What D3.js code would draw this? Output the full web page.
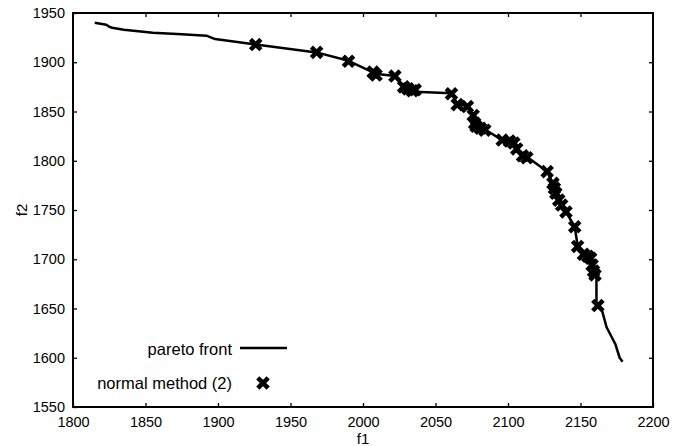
<!DOCTYPE html>
<html>
<head>
<meta charset="utf-8">
<script src="https://cdn.jsdelivr.net/npm/d3@7"></script>
<style>
  body { margin: 0; background: #fff; }
  text { font-family: "Liberation Sans", Arial, sans-serif; fill: #000; }
</style>
</head>
<body>
<div id="chart"></div>
<script>
// pareto front (line)
var frontF1 = [1815, 1823, 1825, 1827, 1835, 1855, 1875, 1892, 1898, 1926, 1968, 1990, 2008, 2010, 2022, 2028, 2031, 2034, 2036, 2061, 2065, 2072, 2076, 2077, 2079, 2083, 2085, 2096, 2102, 2106, 2110, 2113, 2127, 2131, 2132, 2136, 2140, 2146, 2148, 2153, 2157, 2158, 2160, 2161, 2161, 2165, 2168, 2174, 2177, 2179];
var frontF2 = [1940, 1938, 1936, 1935, 1933, 1930, 1928.5, 1927, 1923.5, 1918, 1910, 1901.5, 1889, 1888, 1886, 1875, 1874, 1871, 1870, 1868.5, 1858, 1855, 1844, 1838, 1835, 1833, 1831, 1821, 1819.5, 1812, 1806, 1804, 1789, 1777, 1768, 1757, 1748, 1733, 1714, 1706, 1702, 1697, 1686, 1682, 1653, 1647, 1631, 1614, 1600, 1596];

// normal method (2) points
var normalF1 = [1926, 1968, 1990, 2007, 2009, 2022, 2028, 2031, 2034, 2036, 2061, 2065, 2072, 2076, 2077, 2078, 2081, 2084, 2096, 2101, 2104, 2106, 2110, 2113, 2127, 2131, 2132, 2133, 2135, 2137, 2140, 2146, 2148, 2152, 2155, 2157, 2158, 2159, 2160, 2162];
var normalF2 = [1918, 1910, 1901, 1890, 1887, 1886, 1875, 1873, 1871, 1872, 1868, 1857, 1855, 1846, 1838, 1835, 1833, 1831, 1821, 1820, 1818, 1812, 1805, 1803, 1789, 1777, 1772, 1767, 1760, 1755, 1748, 1733, 1713, 1705, 1703, 1701, 1694, 1688, 1684, 1653];

var xTicks = [1800, 1850, 1900, 1950, 2000, 2050, 2100, 2150, 2200];
var yTicks = [1550, 1600, 1650, 1700, 1750, 1800, 1850, 1900, 1950];

var margin = {top: 13, right: 29, bottom: 39, left: 73},
    width = 682 - margin.left - margin.right,
    height = 446 - margin.top - margin.bottom;

var svg = d3.select("#chart")
  .append("svg")
    .attr("width", 682)
    .attr("height", 446)
  .append("g")
    .attr("transform", "translate(" + margin.left + "," + margin.top + ")");

var x = d3.scaleLinear().domain([1800, 2200]).range([0, width]);
var y = d3.scaleLinear().domain([1550, 1950]).range([height, 0]);

// axes with inward ticks
var xb = svg.append("g")
  .attr("transform", "translate(0," + height + ")")
  .call(d3.axisBottom(x).tickValues(xTicks).tickSizeInner(-4).tickSizeOuter(0).tickPadding(10).tickFormat(d3.format("d")));
var yl = svg.append("g")
  .call(d3.axisLeft(y).tickValues(yTicks).tickSizeInner(-4).tickSizeOuter(0).tickPadding(8).tickFormat(d3.format("d")));
var xt = svg.append("g")
  .call(d3.axisTop(x).tickValues(xTicks.slice(1, -1)).tickSizeInner(-4).tickSizeOuter(0).tickFormat(""));
var yr = svg.append("g")
  .attr("transform", "translate(" + width + ",0)")
  .call(d3.axisRight(y).tickValues(yTicks.slice(1, -1)).tickSizeInner(-4).tickSizeOuter(0).tickFormat(""));

[xb, yl, xt, yr].forEach(function(g) {
  g.select(".domain").remove();
  g.selectAll(".tick line").attr("stroke", "#000").attr("stroke-width", 1.3);
  g.selectAll(".tick text").style("font-size", "14.5px").attr("fill", "#000");
});

svg.append("rect")
  .attr("width", width)
  .attr("height", height)
  .attr("fill", "none")
  .attr("stroke", "#000")
  .attr("stroke-width", 2);

// pareto front line
var line = d3.line()
  .x(function(d) { return x(frontF1[d]); })
  .y(function(d) { return y(frontF2[d]); });

svg.append("path")
  .datum(d3.range(frontF1.length))
  .attr("d", line)
  .attr("fill", "none")
  .attr("stroke", "#000")
  .attr("stroke-width", 2.5)
  .attr("stroke-linejoin", "round");

// X markers
var cross = "M-5.2,-5.2L5.2,5.2M-5.2,5.2L5.2,-5.2";
svg.append("g")
  .selectAll("path")
  .data(d3.range(normalF1.length))
  .enter()
  .append("path")
    .attr("d", cross)
    .attr("transform", function(i) { return "translate(" + x(normalF1[i]) + "," + y(normalF2[i]) + ")"; })
    .attr("stroke", "#000")
    .attr("stroke-width", 4.5)
    .attr("fill", "none");

// legend
var lg = svg.append("g").attr("transform", "translate(" + (-margin.left) + "," + (-margin.top) + ")");
lg.append("text")
  .attr("x", 232).attr("y", 349)
  .attr("text-anchor", "end").attr("dy", "0.35em")
  .style("font-size", "16.5px")
  .text("pareto front");
lg.append("line")
  .attr("x1", 240).attr("x2", 287).attr("y1", 348).attr("y2", 348)
  .attr("stroke", "#000").attr("stroke-width", 2.5);
lg.append("text")
  .attr("x", 232).attr("y", 383)
  .attr("text-anchor", "end").attr("dy", "0.35em")
  .style("font-size", "16.5px")
  .text("normal method (2)");
lg.append("path")
  .attr("d", cross)
  .attr("transform", "translate(263,383)")
  .attr("stroke", "#000").attr("stroke-width", 4.5).attr("fill", "none");

// axis titles
svg.append("text")
  .attr("x", width / 2).attr("y", height + 32)
  .attr("text-anchor", "middle").attr("dy", "0.35em")
  .style("font-size", "15px")
  .text("f1");
svg.append("text")
  .attr("transform", "translate(" + (22 - margin.left) + "," + (height / 2) + ") rotate(-90)")
  .attr("text-anchor", "middle").attr("dy", "0.35em")
  .style("font-size", "15px")
  .text("f2");
</script>
</body>
</html>
